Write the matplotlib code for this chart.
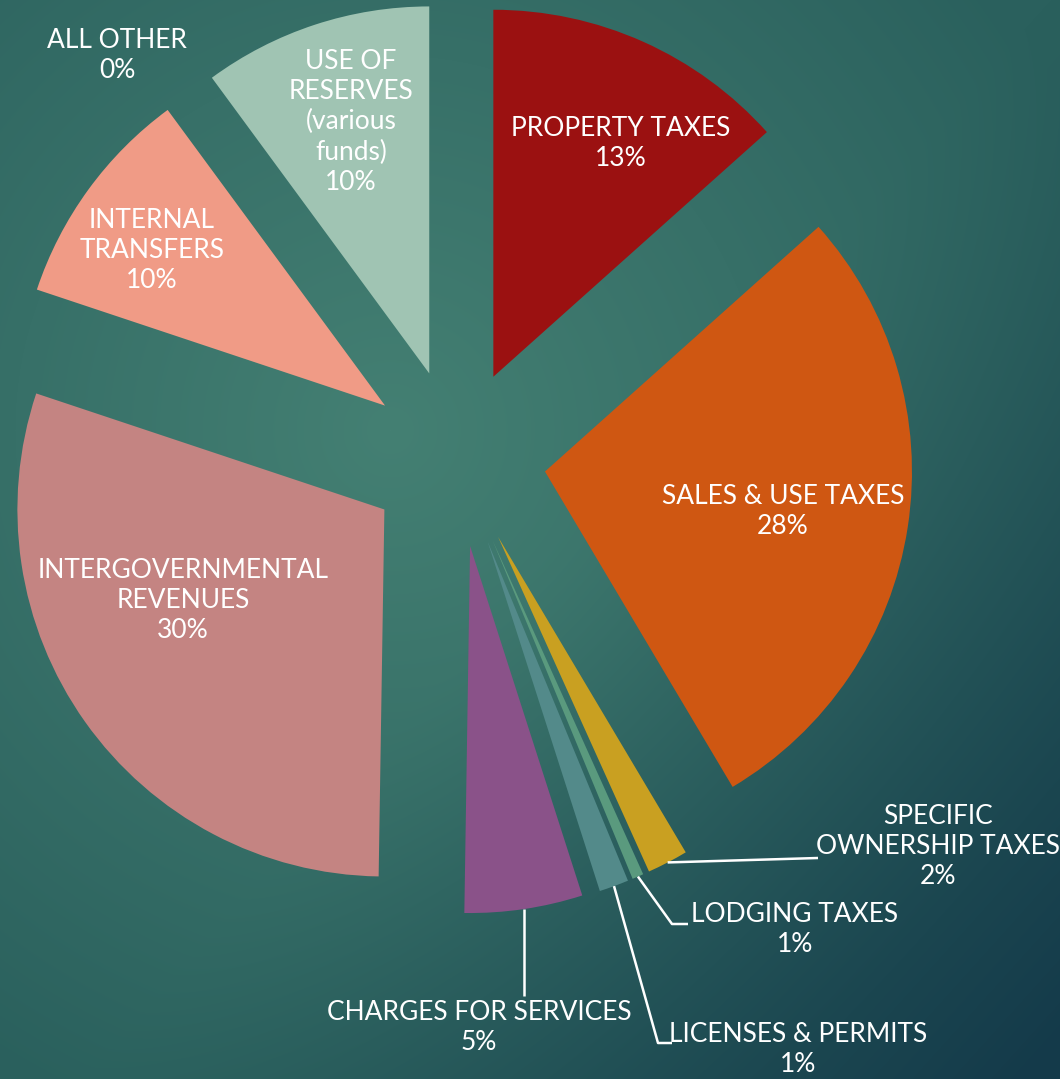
import numpy as np
import matplotlib
matplotlib.use('Agg')
import matplotlib.pyplot as plt

# revenue shares (percent), clockwise from 12 o'clock
categories = ['PROPERTY TAXES', 'SALES & USE TAXES', 'SPECIFIC\nOWNERSHIP TAXES',
              'LODGING TAXES', 'LICENSES & PERMITS', 'CHARGES FOR SERVICES',
              'INTERGOVERNMENTAL\nREVENUES', 'INTERNAL\nTRANSFERS',
              'USE OF\nRESERVES\n(various\nfunds)', 'ALL OTHER']
shares = [13.4, 28.1, 1.8, 0.5, 1.3, 5.2, 29.9, 9.8, 10.1, 0.0]
pct_labels = ['13%', '28%', '2%', '1%', '1%', '5%', '30%', '10%', '10%', '0%']
colors = ['#9B1111', '#CF5712', '#C9A021', '#5A9A7E', '#538A8A', '#8A5289',
          '#C48482', '#F09B86', '#A0C4B3', '#7FA8A0']

W, H = 1060, 1079


def px(x, y):
    # image pixel coords -> data coords (y up)
    return x, H - y


fig = plt.figure(figsize=(W / 100, H / 100), dpi=100)
ax = fig.add_axes([0, 0, 1, 1])

# ---- background gradient
yy, xx = np.mgrid[0:H, 0:W]
rad = np.sqrt((xx - 390) ** 2 + (yy - 430) ** 2) / 750.0
rad = np.clip(rad, 0, 1)
c_mid = np.array([0x44, 0x80, 0x73]) / 255
c_edge = np.array([0x2A, 0x60, 0x5D]) / 255
c_dark = np.array([0x14, 0x3A, 0x4A]) / 255
bg = c_mid + (c_edge - c_mid) * rad[..., None]
diag = np.clip((xx + 0.9 * yy - 1050) / 950.0, 0, 1) ** 1.3
bg = bg + (c_dark - bg) * diag[..., None]
ax.imshow(bg, extent=(0, W, 0, H), origin='upper', zorder=0, aspect='auto')

# ---- pie (explode is in data units here, radius is in pixels)
cx, cy = px(457, 458)
R = 367
wedges, _ = ax.pie(shares, colors=colors, startangle=90, counterclock=False,
                   explode=[89] * len(shares), radius=R, center=(cx, cy),
                   wedgeprops=dict(linewidth=0), frame=True)
ax.set_xlim(0, W)
ax.set_ylim(0, H)
ax.set_aspect('equal')
ax.axis('off')

font = dict(family=['Lato', 'DejaVu Sans'], fontsize=19, color='white',
            ha='center', va='center', linespacing=1.25)

# label positions (image pixels) for each slice
label_pos = [(621, 143), (783, 511), (938, 847), (795, 930), (798, 1050),
             (479, 1028), (183, 601), (152, 251), (351, 122), (117, 55)]
for name, pct, (lx, ly) in zip(categories, pct_labels, label_pos):
    ax.text(*px(lx, ly), name + '\n' + pct, **font)


def arc_mid(w):
    a = np.deg2rad((w.theta1 + w.theta2) / 2)
    return w.center[0] + w.r * np.cos(a), w.center[1] + w.r * np.sin(a)


# leader lines for the thin slices: (slice index, elbow point, end point)
leaders = [(2, (818, 858), (818, 858)),
           (3, (672, 924), (688, 924)),
           (4, (658, 1043), (672, 1043)),
           (5, None, (526, 996))]
for i, elbow, end in leaders:
    sx, sy = arc_mid(wedges[i])
    if elbow is None:
        xs = [sx, sx]
        ys = [sy, px(*end)[1]]
    else:
        ex, ey = px(*elbow)
        fx, fy = px(*end)
        xs = [sx, ex, fx]
        ys = [sy, ey, fy]
    ax.plot(xs, ys, color='white', lw=1.8, solid_capstyle='butt', zorder=5)

fig.savefig('out.png', dpi=100)
